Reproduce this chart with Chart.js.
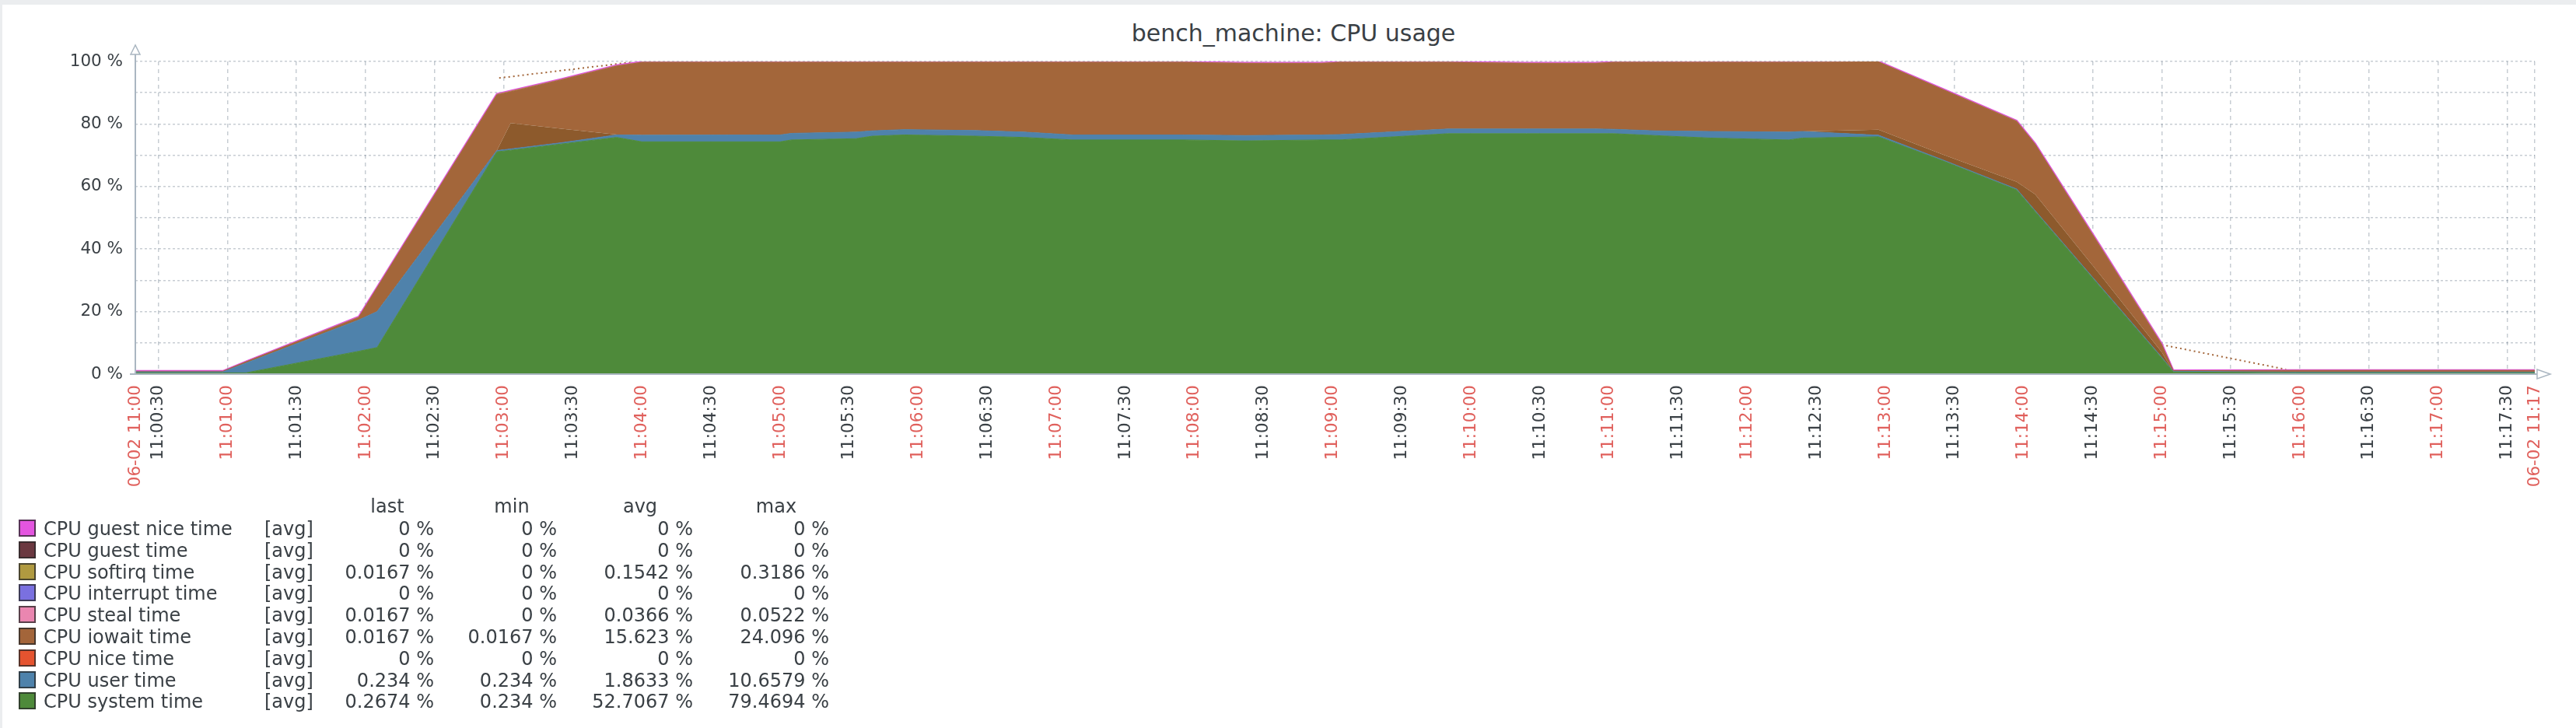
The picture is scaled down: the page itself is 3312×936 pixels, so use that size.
<!DOCTYPE html>
<html>
<head>
<meta charset="utf-8">
<title>bench_machine: CPU usage</title>
<script src="https://cdn.jsdelivr.net/npm/chart.js@4.4.1/dist/chart.umd.min.js"></script>
<style>
  html, body { margin: 0; padding: 0; background: #ebedef; }
  body { width: 3312px; height: 936px; position: relative; overflow: hidden;
         font-family: "DejaVu Sans", sans-serif; color: #3a4045; }
  #panel { position: absolute; left: 3px; top: 6px; right: 0; bottom: 0; background: #fff; }
  #chartBox { position: absolute; left: 0; top: 0; width: 3312px; height: 650px; }
  #title { position: absolute; left: 0; top: 25px; width: 3326px; text-align: center;
           font-size: 30px; line-height: 36px; white-space: nowrap; }
  .lrow { position: absolute; left: 0; width: 1200px; height: 28px; font-size: 24px; line-height: 28px; white-space: nowrap; }
  .lrow span { position: absolute; top: 0; }
  .swatch { top: 2px !important; left: 24px; width: 22px; height: 22px; box-sizing: border-box;
            border: 2px solid rgba(40, 40, 40, 0.75); }
  .num { width: 240px; text-align: right; }
  .head { width: 200px; text-align: center; }
</style>
</head>
<body>
<div id="panel"></div>
<div id="title">bench_machine: CPU usage</div>
<div id="chartBox"><canvas id="cpuChart"></canvas></div>
<div id="legend"></div>
<script>
// seconds after 11:00:00 on 06-02
const times = [20, 58, 68, 117, 125, 177, 183, 205, 229, 240, 300, 305, 333, 340, 354, 385, 406, 427, 475, 502,
               535, 543, 590, 624, 654, 662, 680, 704, 738, 744, 777, 805, 837, 845, 873, 900, 905, 958, 1062];

// stacked from the bottom up (percent)
const systemTime = [0.4, 0.4, 0.4, 7.3, 8.5, 71.1, 71.6, 73.6, 75.7, 74.3, 74.3, 74.9, 75.3, 76.1, 76.5, 76.1, 75.7, 74.9, 74.9, 74.6,
                    74.9, 74.9, 76.9, 76.9, 76.9, 76.9, 76.3, 75.5, 74.9, 75.5, 75.9, 68.2, 58.9, 52.0, 28.1, 5.1, 0.7, 0.4, 0.4];
const userTime = [0.3, 0.3, 3.1, 10.0, 11.5, 0.4, 0.4, 0.4, 0.8, 2.1, 2.2, 2.1, 2.1, 1.7, 1.7, 1.8, 1.7, 1.6, 1.6, 1.7,
                  1.6, 1.7, 1.5, 1.5, 1.5, 1.4, 1.5, 2.1, 2.5, 2.1, 0.5, 0.3, 0.3, 0.3, 0.3, 0.3, 0.2, 0.2, 0.2];
const niceTime = [0, 0, 0, 0, 0, 0, 0, 0, 0, 0, 0, 0, 0, 0, 0, 0, 0, 0, 0, 0,
                  0, 0, 0, 0, 0, 0, 0, 0, 0, 0, 0, 0, 0, 0, 0, 0, 0, 0, 0];
// darker min/max shading that sits under the iowait area
const iowaitShade = [0, 0, 0, 0, 0, 0, 8.3, 4.5, 0.1, 0, 0, 0, 0, 0, 0, 0, 0, 0, 0, 0,
                     0, 0, 0, 0, 0, 0, 0, 0, 0, 0, 1.8, 1.7, 2.3, 5.2, 3.6, 1.6, 0, 0, 0];
const iowaitTime = [0.2, 0.2, 0.4, 0.8, 7.6, 17.8, 10.0, 15.6, 21.9, 23.3, 23.2, 22.7, 22.3, 21.9, 21.5, 21.8, 22.3, 23.2, 23.2, 23.0,
                    22.8, 23.1, 21.3, 20.9, 20.9, 21.4, 21.9, 22.1, 22.3, 22.1, 21.6, 20.8, 19.3, 16.0, 9.0, 2.4, 0.2, 0.6, 0.6];
const stealTime = [0.02, 0.02, 0.03, 0.05, 0.05, 0.05, 0.05, 0.04, 0.04, 0.04, 0.04, 0.04, 0.04, 0.04, 0.04, 0.04, 0.04, 0.04, 0.04, 0.04,
                   0.04, 0.04, 0.04, 0.04, 0.04, 0.04, 0.04, 0.04, 0.04, 0.04, 0.04, 0.05, 0.05, 0.05, 0.05, 0.05, 0.02, 0.02, 0.02];
const interruptTime = [0, 0, 0, 0, 0, 0, 0, 0, 0, 0, 0, 0, 0, 0, 0, 0, 0, 0, 0, 0,
                       0, 0, 0, 0, 0, 0, 0, 0, 0, 0, 0, 0, 0, 0, 0, 0, 0, 0, 0];
const softirqTime = [0.05, 0.05, 0.1, 0.2, 0.2, 0.25, 0.25, 0.2, 0.2, 0.15, 0.15, 0.15, 0.15, 0.15, 0.15, 0.15, 0.15, 0.15, 0.15, 0.2,
                     0.2, 0.15, 0.15, 0.2, 0.2, 0.15, 0.15, 0.15, 0.15, 0.15, 0.15, 0.15, 0.2, 0.2, 0.3, 0.3, 0.05, 0.05, 0.05];
const guestTime = [0, 0, 0, 0, 0, 0, 0, 0, 0, 0, 0, 0, 0, 0, 0, 0, 0, 0, 0, 0,
                   0, 0, 0, 0, 0, 0, 0, 0, 0, 0, 0, 0, 0, 0, 0, 0, 0, 0, 0];
const guestNiceTime = [0, 0, 0, 0, 0, 0, 0, 0, 0, 0, 0, 0, 0, 0, 0, 0, 0, 0, 0, 0,
                       0, 0, 0, 0, 0, 0, 0, 0, 0, 0, 0, 0, 0, 0, 0, 0, 0, 0, 0];

// dotted "missing data" links drawn by zabbix between sparse samples
const gapTimes = [178, 236, 500, 900, 954];
const gapValues = [94.7, 99.8, null, 9.4, 1.5];

const xMin = 20, xMax = 1062;
const xTickSeconds = [20, 30, 60, 90, 120, 150, 180, 210, 240, 270, 300, 330, 360, 390, 420, 450, 480, 510, 540,
                      570, 600, 630, 660, 690, 720, 750, 780, 810, 840, 870, 900, 930, 960, 990, 1020, 1050, 1062];
const xTickLabels = ['06-02 11:00', '11:00:30', '11:01:00', '11:01:30', '11:02:00', '11:02:30', '11:03:00', '11:03:30',
                     '11:04:00', '11:04:30', '11:05:00', '11:05:30', '11:06:00', '11:06:30', '11:07:00', '11:07:30',
                     '11:08:00', '11:08:30', '11:09:00', '11:09:30', '11:10:00', '11:10:30', '11:11:00', '11:11:30',
                     '11:12:00', '11:12:30', '11:13:00', '11:13:30', '11:14:00', '11:14:30', '11:15:00', '11:15:30',
                     '11:16:00', '11:16:30', '11:17:00', '11:17:30', '06-02 11:17'];

// legend table (top to bottom, as zabbix prints it)
const legendNames = ['CPU guest nice time', 'CPU guest time', 'CPU softirq time', 'CPU interrupt time', 'CPU steal time',
                     'CPU iowait time', 'CPU nice time', 'CPU user time', 'CPU system time'];
const legendColors = ['#e455e0', '#6b3840', '#b09a40', '#7a70e0', '#ea86b0', '#a3653a', '#e5532f', '#4e82ab', '#4e8a3a'];
const lastVals = ['0 %', '0 %', '0.0167 %', '0 %', '0.0167 %', '0.0167 %', '0 %', '0.234 %', '0.2674 %'];
const minVals = ['0 %', '0 %', '0 %', '0 %', '0 %', '0.0167 %', '0 %', '0.234 %', '0.234 %'];
const avgVals = ['0 %', '0 %', '0.1542 %', '0 %', '0.0366 %', '15.623 %', '0 %', '1.8633 %', '52.7067 %'];
const maxVals = ['0 %', '0 %', '0.3186 %', '0 %', '0.0522 %', '24.096 %', '0 %', '10.6579 %', '79.4694 %'];

const axisColor = '#aab6c1';
const gridColor = 'rgba(70, 90, 110, 0.3)';
const textColor = '#3a4045';
const redText = '#e0605c';

function buildLegend() {
    const legend = document.getElementById('legend');
    const head = document.createElement('div');
    head.className = 'lrow';
    head.style.top = '637px';
    [['last', 498], ['min', 658], ['avg', 823], ['max', 998]].forEach(([t, c]) => {
        const s = document.createElement('span');
        s.className = 'head';
        s.style.left = (c - 100) + 'px';
        s.textContent = t;
        head.appendChild(s);
    });
    legend.appendChild(head);

    legendNames.forEach((name, i) => {
        const row = document.createElement('div');
        row.className = 'lrow';
        row.style.top = (666 + i * 27.8) + 'px';
        row.innerHTML = `
            <span class="swatch" style="background:${legendColors[i]}"></span>
            <span style="left:56px">${name}</span>
            <span style="left:340px">[avg]</span>
            <span class="num" style="left:${558 - 240}px">${lastVals[i]}</span>
            <span class="num" style="left:${716 - 240}px">${minVals[i]}</span>
            <span class="num" style="left:${891 - 240}px">${avgVals[i]}</span>
            <span class="num" style="left:${1066 - 240}px">${maxVals[i]}</span>`;
        legend.appendChild(row);
    });
}

function series(values, color, opts = {}) {
    return Object.assign({
        data: times.map((t, i) => ({x: t, y: values[i]})),
        backgroundColor: color,
        borderColor: color,
        borderWidth: 1,
        fill: '-1',
        pointRadius: 0,
        tension: 0
    }, opts);
}

// axis lines + the hollow arrow heads
const axisArrows = {
    id: 'axisArrows',
    afterDraw(chart) {
        const {ctx, chartArea: a} = chart;
        ctx.save();
        ctx.setLineDash([]);
        ctx.strokeStyle = axisColor;
        ctx.fillStyle = '#fff';
        ctx.lineWidth = 2;
        ctx.beginPath();
        ctx.moveTo(a.left, a.top - 9);
        ctx.lineTo(a.left, a.bottom);
        ctx.lineTo(a.right + 3, a.bottom);
        ctx.moveTo(a.left - 7, a.bottom);
        ctx.lineTo(a.left, a.bottom);
        ctx.stroke();
        ctx.lineWidth = 1.5;
        ctx.beginPath();
        ctx.moveTo(a.left - 6, a.top - 9);
        ctx.lineTo(a.left, a.top - 21);
        ctx.lineTo(a.left + 6, a.top - 9);
        ctx.closePath();
        ctx.fill();
        ctx.stroke();
        ctx.beginPath();
        ctx.moveTo(a.right + 3, a.bottom - 6);
        ctx.lineTo(a.right + 20, a.bottom);
        ctx.lineTo(a.right + 3, a.bottom + 6);
        ctx.closePath();
        ctx.fill();
        ctx.stroke();
        ctx.restore();
    }
};

buildLegend();

const ctx = document.getElementById('cpuChart');
new Chart(ctx, {
    type: 'line',
    data: {
        datasets: [
            series(systemTime, '#4e8a3a', {fill: 'origin'}),
            series(userTime, '#4f82ab'),
            series(niceTime, '#e5532f', {borderWidth: 0}),
            series(iowaitShade, '#8d5a2c', {borderWidth: 0}),
            series(iowaitTime, '#a3663a'),
            series(stealTime, '#ea86b0', {borderWidth: 0}),
            series(interruptTime, '#7a70e0', {borderWidth: 0}),
            series(softirqTime, '#b09a40', {borderWidth: 0}),
            series(guestTime, '#6b3840', {borderWidth: 0}),
            series(guestNiceTime, '#e455e0', {borderWidth: 2.5, borderColor: '#e050dc'}),
            {
                data: gapTimes.map((t, i) => ({x: t, y: gapValues[i]})),
                stack: 'gaps',
                fill: false,
                borderColor: '#a3663a',
                borderWidth: 2,
                borderDash: [2, 4],
                pointRadius: 0,
                spanGaps: false
            }
        ]
    },
    options: {
        responsive: true,
        maintainAspectRatio: false,
        animation: false,
        events: [],
        layout: { padding: { top: 79, right: 53, bottom: 0, left: 0 } },
        plugins: {
            legend: { display: false },
            tooltip: { enabled: false },
            title: { display: false }
        },
        scales: {
            x: {
                type: 'linear',
                min: xMin,
                max: xMax,
                z: 1,
                afterBuildTicks: scale => {
                    scale.ticks = xTickSeconds.map(v => ({ value: v }));
                },
                afterFit: scale => { scale.height = 169; },
                grid: {
                    color: gridColor,
                    lineWidth: 1.5,
                    drawTicks: false
                },
                border: { display: false, dash: [5, 5] },
                ticks: {
                    autoSkip: false,
                    minRotation: 90,
                    maxRotation: 90,
                    padding: 14,
                    font: { family: 'DejaVu Sans', size: 21.5 },
                    color: c => {
                        const v = c.tick ? c.tick.value : 0;
                        return (v % 60 === 0 || v === xMin || v === xMax) ? redText : textColor;
                    },
                    callback: (value, index) => xTickLabels[index]
                }
            },
            y: {
                stacked: true,
                min: 0,
                max: 100,
                z: 1,
                afterFit: scale => { scale.width = 174; },
                grid: {
                    color: gridColor,
                    lineWidth: 1.5,
                    drawTicks: false
                },
                border: { display: false, dash: [3, 3] },
                ticks: {
                    stepSize: 10,
                    padding: 16,
                    font: { family: 'DejaVu Sans', size: 21.5 },
                    color: textColor,
                    callback: v => (v % 20 === 0 ? v + ' %' : '')
                }
            }
        }
    },
    plugins: [axisArrows]
});
</script>
</body>
</html>
